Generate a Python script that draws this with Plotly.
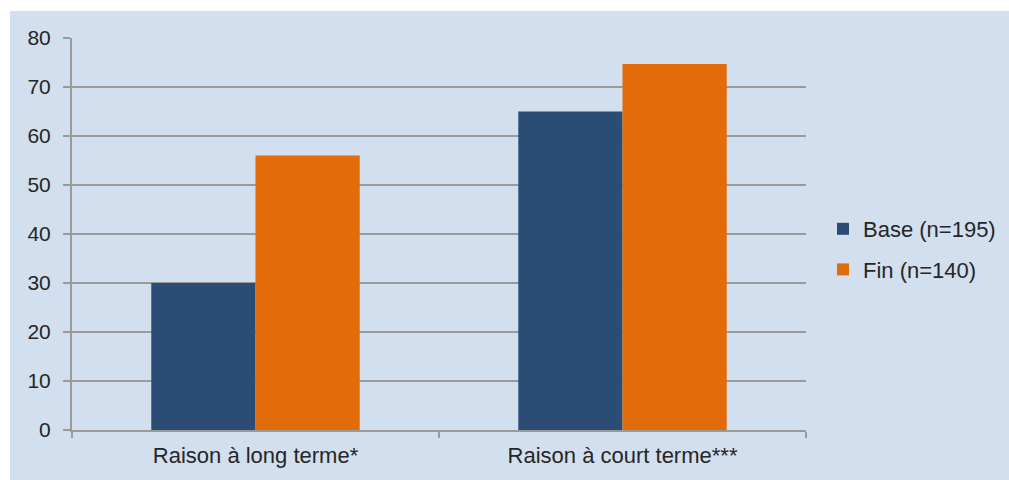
import plotly.graph_objects as go

categories = ["Raison à long terme*", "Raison à court terme***"]
base_values = [30, 65]
fin_values = [56, 74.7]
series_names = ["Base (n=195)", "Fin (n=140)"]

W, H = 1009, 480
L, R, T, B = 72, 203, 38, 50
pw, ph = W - L - R, H - T - B

BG = "#D2DFEE"
GRID = "#9A9A9A"
TXT = "#262626"
FONT = "Liberation Sans, Arial, sans-serif"

fig = go.Figure()
fig.add_trace(go.Bar(x=categories, y=base_values, name=series_names[0],
                     marker=dict(color="#2B4D75", line=dict(width=0)),
                     legendgroup="a"))
fig.add_trace(go.Bar(x=categories, y=fin_values, name=series_names[1],
                     marker=dict(color="#E36C0A", line=dict(width=0)),
                     legendgroup="b"))

# white strips along the top and left edges of the blue panel
fig.add_shape(type="rect", xref="paper", yref="paper", layer="below",
              x0=-(L + 20) / pw, x1=(W - L + 20) / pw,
              y0=(H - B - 11) / ph, y1=(H - B + 20) / ph,
              fillcolor="white", line=dict(width=0))
fig.add_shape(type="rect", xref="paper", yref="paper", layer="below",
              x0=-(L + 20) / pw, x1=(10 - L) / pw,
              y0=-(B + 20) / ph, y1=(H - B + 20) / ph,
              fillcolor="white", line=dict(width=0))

fig.update_layout(
    width=W, height=H,
    margin=dict(l=L, r=R, t=T, b=B, pad=0, autoexpand=False),
    paper_bgcolor=BG,
    plot_bgcolor=BG,
    barmode="group",
    bargap=0.432,
    bargroupgap=0,
    font=dict(family=FONT, size=20, color=TXT),
    legend=dict(x=(823 - L) / pw, xanchor="left",
                y=(H - B - 208) / ph, yanchor="top",
                bgcolor="rgba(0,0,0,0)", traceorder="grouped",
                tracegroupgap=9, font=dict(size=22)),
    xaxis=dict(showline=True, linecolor=GRID, linewidth=2,
               ticks="outside", ticklen=6, tickcolor=GRID, tickwidth=2,
               tickson="boundaries", showgrid=False,
               tickfont=dict(size=22), ticklabelstandoff=5),
    yaxis=dict(range=[0, 80], dtick=10, showline=True, linecolor=GRID,
               linewidth=2, ticks="outside", ticklen=7, tickcolor=GRID,
               tickwidth=2, showgrid=True, gridcolor=GRID, gridwidth=1.5,
               zeroline=False, tickfont=dict(size=21), ticklabelstandoff=8),
)

fig.write_html("out.html")
